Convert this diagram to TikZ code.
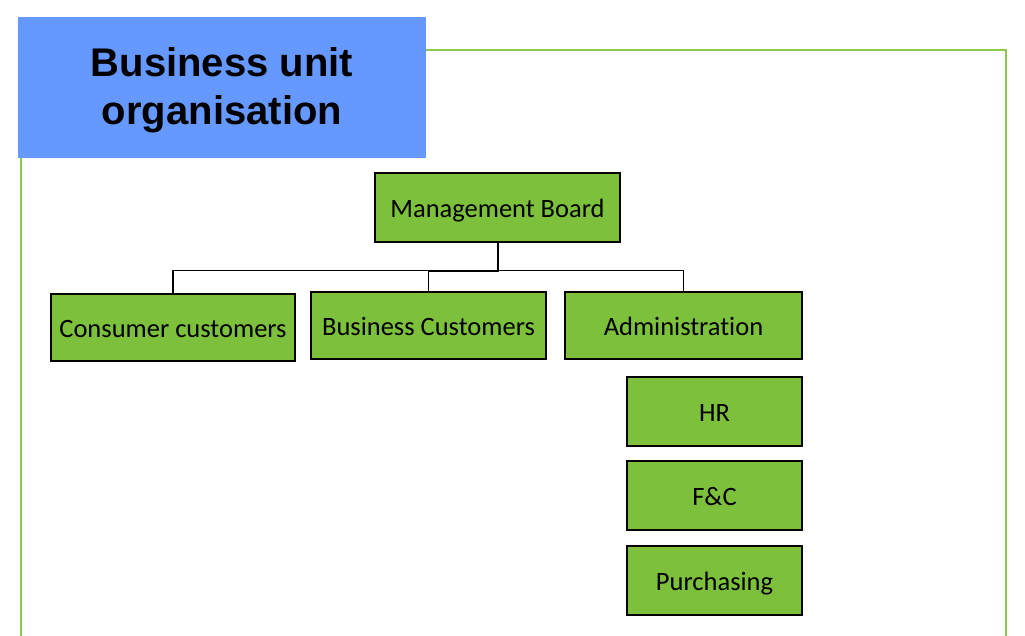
\documentclass[tikz,border=0pt]{standalone}
\usepackage{fontspec}
\newfontfamily\carlito{Carlito}[Ligatures={NoCommon}]
\newfontfamily\arialish{Liberation Sans}
\definecolor{boxgreen}{HTML}{7CC03C}
\definecolor{framegreen}{HTML}{8CC84B}
\definecolor{titleblue}{HTML}{6699FF}
\begin{document}
\begin{tikzpicture}[x=1pt,y=-1pt,
  orgbox/.style={draw=black,line width=1.3pt,fill=boxgreen,inner sep=0pt,
    text height=20pt,text depth=0pt,
    font=\carlito\fontsize{26.5}{32}\selectfont,text=black},
  conn/.style={draw=black,line width=1.1pt},
  stem/.style={draw=black,line width=2pt},
  titlebox/.style={fill=titleblue,draw=none,inner sep=0pt,minimum width=408pt,minimum height=141pt},
  titletext/.style={font=\arialish\bfseries\fontsize{40}{48}\selectfont,align=center,inner sep=0pt}]
\useasboundingbox (0,0) rectangle (1025,636);
% frame
\draw[framegreen,line width=2pt] (21,660) -- (21,50) -- (1006,50) -- (1006,660);
% title
\node[titlebox] (title) at (222,87.5) {};
\node[titletext,anchor=base] (titletxt) at (222,125) {Business unit\\organisation};
% boxes
\node[orgbox,minimum width=245pt,minimum height=69pt] (mb) at (497.5,207.5) {Management Board};
\node[orgbox,minimum width=244pt,minimum height=67pt] (cc) at (173,327.5) {Consumer customers};
\node[orgbox,minimum width=235pt,minimum height=67pt] (bc) at (428.5,325.5) {Business Customers};
\node[orgbox,minimum width=237pt,minimum height=67pt] (ad) at (683.5,325.5) {Administration};
\node[orgbox,minimum width=175pt,minimum height=69pt] (hr) at (714.5,411.5) {HR};
\node[orgbox,minimum width=175pt,minimum height=69pt] (fc) at (714.5,495.5) {F\&C};
\node[orgbox,minimum width=175pt,minimum height=69pt] (pu) at (714.5,580.5) {Purchasing};
% connectors
\coordinate (bus) at ([yshift=-28pt]mb.south);
\draw[conn] (mb.south) -- (bus) -| (cc.north);
\draw[conn] (mb.south) -- (bus) -| (bc.north);
\draw[conn] (mb.south) -- (bus) -| (ad.north);
\draw[stem] (mb.south) -- (bus) -- (bus -| bc.north);
\end{tikzpicture}
\end{document}
